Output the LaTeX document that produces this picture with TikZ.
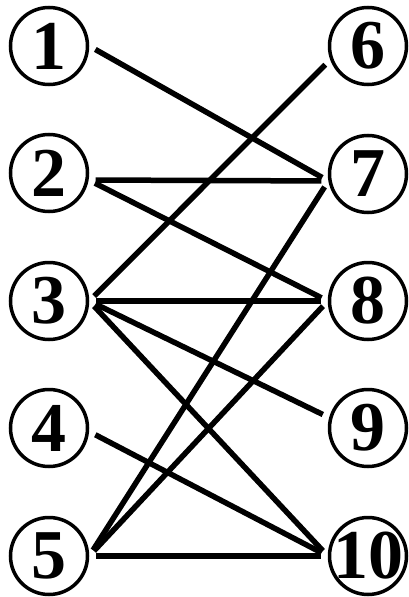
\documentclass[tikz,border=0pt]{standalone}
\usepackage{fontspec}
\setmainfont{Liberation Serif}
\usetikzlibrary{positioning}

\begin{document}
\begin{tikzpicture}[
  x = 1pt, y = -1pt,
  % ── Vertex circle ───────────────────────────────────────
  vertex/.style={
    circle,
    draw         = black,
    line width   = 3.5pt,
    inner sep    = -6pt,
    minimum size = 77pt,
    font         = \fontsize{70}{70}\selectfont\bfseries
  },
  % ── Edge ────────────────────────────────────────────────
  edge/.style={
    line width  = 5.5pt,
    shorten >=  7pt,
    shorten <=  7pt
  }
]
\useasboundingbox (0,0) rectangle (409,597);

% ── Nodes ──────────────────────────────────────────────────
\foreach \i/\y in {1/46, 2/173, 3/301, 4/428, 5/556}
  \node[vertex] (v\i) at (49,\y) {\i};
\foreach \i/\y in {6/46, 7/174, 8/301, 9/428, 10/556}
  \node[vertex] (v\i) at (368,\y) {\i};

% ── Edges ──────────────────────────────────────────────────
\foreach \f/\t in {v1.east/v7.190, v2.-10/v7.190, v2.-10/v8.west,
                   v3.east/v6.200, v3.east/v8.west, v3.east/v9.165,
                   v3.east/v10.west, v4.-5/v10.west, v5.east/v7.190,
                   v5.east/v8.west, v5.east/v10.west}
  \draw[edge] (\f) -- (\t);

\end{tikzpicture}
\end{document}
